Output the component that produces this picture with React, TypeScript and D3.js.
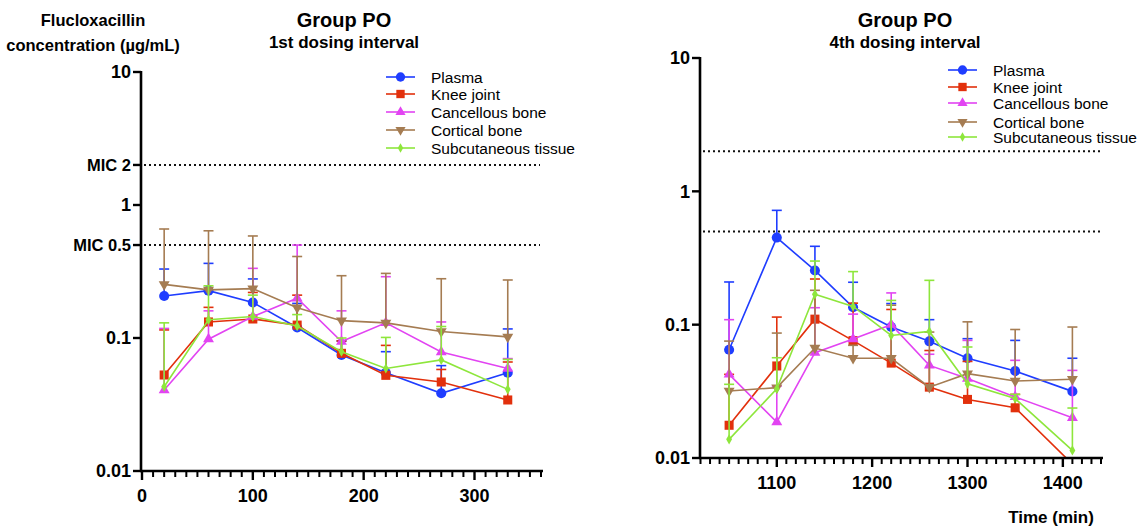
import React from 'react';
import * as d3 from 'd3';

// series (same order in both panels)
const seriesNames = ['Plasma', 'Knee joint', 'Cancellous bone', 'Cortical bone', 'Subcutaneous tissue'];
const seriesColors = ['#1f3dff', '#e2300c', '#e244f2', '#a57c52', '#8ee63c'];

// MIC reference lines
const micValues = [2, 0.5];
const micLabels = ['MIC 2', 'MIC 0.5'];
const yTickValues = [10, 1, 0.1, 0.01];
const yTickLabels = ['10', '1', '0.1', '0.01'];

// 1st dosing interval
const firstTimes = [20, 60, 100, 140, 180, 220, 270, 330];
const firstPlasma = [0.207, 0.227, 0.185, 0.12, 0.0745, 0.0548, 0.0384, 0.0548];
const firstPlasmaUp = [0.33, 0.364, 0.278, 0.182, 0.095, 0.0789, 0.062, 0.117];
const firstKnee = [0.0527, 0.132, 0.139, 0.125, 0.0767, 0.0524, 0.0467, 0.0342];
const firstKneeUp = [0.115, 0.17, 0.22, 0.21, 0.095, 0.088, 0.058, 0.066];
const firstCancellous = [0.0406, 0.098, 0.145, 0.199, 0.094, 0.13, 0.0785, 0.059];
const firstCancellousUp = [0.118, 0.16, 0.334, 0.5, 0.16, 0.289, 0.132, 0.07];
const firstCortical = [0.253, 0.23, 0.235, 0.169, 0.135, 0.13, 0.112, 0.102];
const firstCorticalUp = [0.66, 0.64, 0.585, 0.41, 0.294, 0.306, 0.279, 0.273];
const firstSubcut = [0.043, 0.137, 0.145, 0.123, 0.0789, 0.059, 0.0684, 0.0411];
const firstSubcutUp = [0.13, 0.247, 0.21, 0.15, 0.1, 0.101, 0.122, 0.069];

// 4th dosing interval
const fourthTimes = [1050, 1100, 1140, 1180, 1220, 1260, 1300, 1350, 1410];
const fourthPlasma = [0.0649, 0.45, 0.255, 0.135, 0.096, 0.075, 0.056, 0.0449, 0.0316];
const fourthPlasmaUp = [0.209, 0.72, 0.387, 0.208, 0.144, 0.109, 0.0785, 0.0762, 0.056];
const fourthKnee = [0.0176, 0.049, 0.11, 0.0759, 0.0515, 0.034, 0.0275, 0.0238, 0.009];
const fourthKneeUp = [0.0424, 0.114, 0.22, 0.145, 0.13, 0.064, 0.053, 0.03, 0.009];
const fourthCancellous = [0.0424, 0.0186, 0.0617, 0.078, 0.1, 0.0495, 0.0394, 0.0287, 0.02];
const fourthCancellousUp = [0.109, 0.0346, 0.134, 0.12, 0.173, 0.06, 0.0762, 0.054, 0.0454];
const fourthCortical = [0.0318, 0.0337, 0.0668, 0.056, 0.056, 0.034, 0.0429, 0.0378, 0.039];
const fourthCorticalUp = [0.0753, 0.0865, 0.181, 0.07, 0.14, 0.088, 0.105, 0.092, 0.096];
const fourthSubcut = [0.0138, 0.033, 0.169, 0.137, 0.083, 0.089, 0.036, 0.0279, 0.0114];
const fourthSubcutUp = [0.0357, 0.0565, 0.3, 0.25, 0.152, 0.215, 0.068, 0.03, 0.0237];

const font = '"Liberation Sans", Arial, sans-serif';

// symbol for each series, triangle down is a rotated triangle
function marker(i: number, cx: number, cy: number, color: string, key: string, scale = 1) {
  const types = [d3.symbolCircle, d3.symbolSquare, d3.symbolTriangle, d3.symbolTriangle, d3.symbolDiamond];
  const sizes = [80, 82, 52, 52, 30];
  const d = d3.symbol().type(types[i]).size(sizes[i] * scale)() as string;
  const rot = i === 3 ? ' rotate(180)' : '';
  return <path key={key} d={d} fill={color} transform={`translate(${cx},${cy})${rot}`} />;
}

type PanelProps = {
  id: string;
  times: number[];
  means: number[][];
  uppers: number[][];
  xDomain: [number, number];
  xRange: [number, number];
  yTop: number;
  yBottom: number;
  axisX: number;
  xLabels: number[];
  xLabelY: number;
  micLabelsOn: boolean;
  tickLabelX: number;
  legendX: number;
  legendYs: number[];
  titleX: number;
  subtitle: string;
};

function Panel(p: PanelProps) {
  const x = d3.scaleLinear().domain(p.xDomain).range(p.xRange);
  const y = d3.scaleLog().domain([0.01, 10]).range([p.yBottom, p.yTop]);
  const line = d3.line<[number, number]>().x(d => x(d[0])).y(d => y(d[1]));
  const minor = d3.range(p.xDomain[0], p.xDomain[1] + 1, 10);
  const right = p.xRange[1];

  return (
    <g>
      <defs>
        <clipPath id={p.id}>
          <rect x={p.axisX} y={p.yTop - 20} width={right - p.axisX + 4} height={p.yBottom - p.yTop + 20} />
        </clipPath>
      </defs>
      <text x={p.titleX} y={27} textAnchor="middle" fontSize={20} fontWeight="bold">Group PO</text>
      <text x={p.titleX} y={48} textAnchor="middle" fontSize={17} fontWeight="bold">{p.subtitle}</text>

      {/* MIC dotted lines */}
      {micValues.map((v, i) => (
        <line key={'mic' + i} x1={p.axisX + 3} x2={right - 1} y1={y(v)} y2={y(v)}
          stroke="#111" strokeWidth={2} strokeDasharray="2 3" />
      ))}

      {/* data */}
      <g clipPath={`url(#${p.id})`}>
        {p.means.map((vals, s) => {
          const pts = p.times.map((t, i) => [t, vals[i]] as [number, number]);
          const col = seriesColors[s];
          return (
            <g key={'s' + s}>
              {p.times.map((t, i) => {
                const up = p.uppers[s][i];
                if (up <= vals[i]) return null;
                return (
                  <g key={'e' + i} stroke={col} strokeWidth={1.6}>
                    <line x1={x(t)} x2={x(t)} y1={y(vals[i])} y2={y(up)} />
                    <line x1={x(t) - 5} x2={x(t) + 5} y1={y(up)} y2={y(up)} />
                  </g>
                );
              })}
              <path d={line(pts) as string} fill="none" stroke={col} strokeWidth={1.6} />
              {pts.map((d, i) => marker(s, x(d[0]), y(d[1]), col, 'm' + i))}
            </g>
          );
        })}
      </g>

      {/* y axis */}
      <line x1={p.axisX} x2={p.axisX} y1={p.yTop - 1} y2={p.yBottom + 1} stroke="#000" strokeWidth={2.6} />
      {yTickValues.map((v, i) => (
        <g key={'yt' + i}>
          <line x1={p.axisX - 8} x2={p.axisX} y1={y(v)} y2={y(v)} stroke="#000" strokeWidth={2.4} />
          <text x={p.tickLabelX} y={y(v)} dy="0.36em" textAnchor="end" fontSize={18} fontWeight="bold">{yTickLabels[i]}</text>
        </g>
      ))}
      {p.micLabelsOn && micValues.map((v, i) => (
        <g key={'ym' + i}>
          <line x1={p.axisX - 8} x2={p.axisX} y1={y(v)} y2={y(v)} stroke="#000" strokeWidth={2.4} />
          <text x={p.tickLabelX} y={y(v)} dy="0.36em" textAnchor="end" fontSize={16.5} fontWeight="bold">{micLabels[i]}</text>
        </g>
      ))}

      {/* x axis */}
      <line x1={p.axisX - 1} x2={right + 2} y1={p.yBottom} y2={p.yBottom} stroke="#000" strokeWidth={2.6} />
      {minor.map(t => {
        const major = t % 100 === 0;
        return (
          <line key={'xt' + t} x1={x(t)} x2={x(t)} y1={p.yBottom} y2={p.yBottom + (major ? 9 : 6)}
            stroke="#000" strokeWidth={major ? 2.4 : 2} />
        );
      })}
      {p.xLabels.map(t => (
        <text key={'xl' + t} x={x(t)} y={p.xLabelY} textAnchor="middle" fontSize={18} fontWeight="bold">{t}</text>
      ))}

      {/* legend */}
      {seriesNames.map((n, s) => (
        <g key={'lg' + s}>
          <line x1={p.legendX} x2={p.legendX + 29} y1={p.legendYs[s]} y2={p.legendYs[s]} stroke={seriesColors[s]} strokeWidth={1.6} />
          {marker(s, p.legendX + 14.5, p.legendYs[s], seriesColors[s], 'lm', 0.85)}
          <text x={p.legendX + 45} y={p.legendYs[s]} dy="0.36em" fontSize={15.5}>{n}</text>
        </g>
      ))}
    </g>
  );
}

export default function App() {
  return (
    <svg width={1142} height={527} style={{ position: 'absolute', left: 0, top: 0, background: '#fff' }}
      fontFamily={font} fill="#000">
      <text x={93} y={26} textAnchor="middle" fontSize={16.5} fontWeight="bold">Flucloxacillin</text>
      <text x={93} y={51} textAnchor="middle" fontSize={16.5} fontWeight="bold">concentration (µg/mL)</text>

      <Panel id="clipA" times={firstTimes}
        means={[firstPlasma, firstKnee, firstCancellous, firstCortical, firstSubcut]}
        uppers={[firstPlasmaUp, firstKneeUp, firstCancellousUp, firstCorticalUp, firstSubcutUp]}
        xDomain={[0, 360]} xRange={[142, 541]} yTop={72} yBottom={471} axisX={141}
        xLabels={[0, 100, 200, 300]} xLabelY={502} micLabelsOn={true} tickLabelX={131}
        legendX={386} legendYs={[77, 94, 112, 130, 148]} titleX={344} subtitle="1st dosing interval" />

      <Panel id="clipB" times={fourthTimes}
        means={[fourthPlasma, fourthKnee, fourthCancellous, fourthCortical, fourthSubcut]}
        uppers={[fourthPlasmaUp, fourthKneeUp, fourthCancellousUp, fourthCorticalUp, fourthSubcutUp]}
        xDomain={[1020, 1440]} xRange={[700.5, 1101]} yTop={58} yBottom={458} axisX={700}
        xLabels={[1100, 1200, 1300, 1400]} xLabelY={489} micLabelsOn={false} tickLabelX={690}
        legendX={948} legendYs={[70, 87, 103, 122, 137]} titleX={905} subtitle="4th dosing interval" />

      <text x={1051} y={523} textAnchor="middle" fontSize={17} fontWeight="bold">Time (min)</text>
    </svg>
  );
}
